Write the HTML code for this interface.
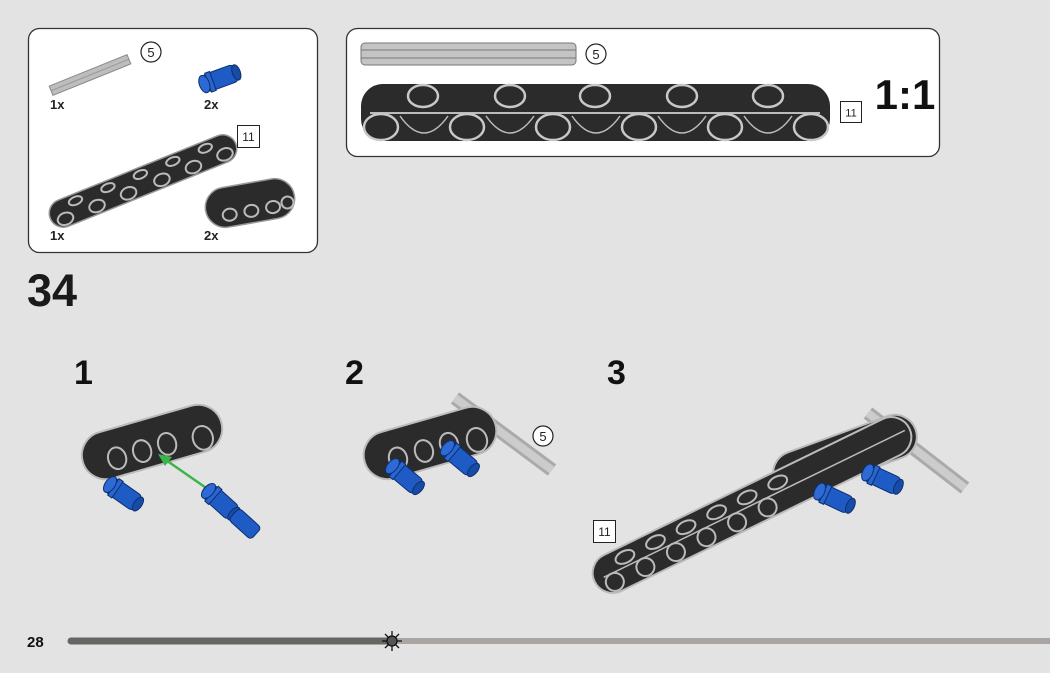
<!DOCTYPE html>
<html><head><meta charset="utf-8"><style>
html,body{margin:0;padding:0;background:#e3e3e3;}
svg{display:block;font-family:"Liberation Sans",sans-serif;}
</style></head><body>
<svg width="1050" height="673" viewBox="0 0 1050 673" xmlns="http://www.w3.org/2000/svg">
<defs>
<g id="pin">
 <rect x="-6" y="-9" width="34" height="18" rx="5" fill="#1f5bc4" stroke="#0d2f70" stroke-width="1"/>
 <rect x="-2" y="-10" width="5" height="20" fill="#2a66cf" stroke="#0d2f70" stroke-width="1"/>
 <ellipse cx="-6" cy="0" rx="5" ry="9" fill="#2d6ad6" stroke="#0d2f70" stroke-width="1"/>
 <ellipse cx="28" cy="0" rx="4" ry="8" fill="#184ba6" stroke="#0d2f70" stroke-width="1"/>
</g>
</defs>
<rect width="1050" height="673" fill="#e3e3e3"/>

<!-- Top-left parts box -->
<rect x="28.5" y="28.5" width="289" height="224" rx="11" fill="#fff" stroke="#333" stroke-width="1.3"/>
<g transform="translate(90,75) rotate(-22)">
 <rect x="-42" y="-5" width="84" height="10" fill="#bdbdbd" stroke="#888" stroke-width="1"/>
 <line x1="-42" y1="0" x2="42" y2="0" stroke="#999"/>
</g>
<circle cx="151" cy="52" r="10" fill="#fff" stroke="#222" stroke-width="1.2"/>
<text x="151" y="57" font-size="13" text-anchor="middle" fill="#222">5</text>
<text x="50" y="109" font-size="13" font-weight="bold" fill="#222">1x</text>
<g transform="translate(210,82) rotate(-20)"><use href="#pin"/></g>
<text x="204" y="109" font-size="13" font-weight="bold" fill="#222">2x</text>
<g transform="translate(143,181) rotate(-22)">
 <rect x="-100" y="-14" width="200" height="28" rx="14" fill="#2b2b2b" stroke="#999" stroke-width="1.5"/>
 <g fill="#2b2b2b" stroke="#bbb" stroke-width="2">
  <ellipse cx="-86" cy="6" rx="8" ry="6"/><ellipse cx="-52" cy="6" rx="8" ry="6"/><ellipse cx="-18" cy="6" rx="8" ry="6"/><ellipse cx="18" cy="6" rx="8" ry="6"/><ellipse cx="52" cy="6" rx="8" ry="6"/><ellipse cx="86" cy="6" rx="8" ry="6"/>
  <ellipse cx="-70" cy="-7" rx="7" ry="4"/><ellipse cx="-35" cy="-7" rx="7" ry="4"/><ellipse cx="0" cy="-7" rx="7" ry="4"/><ellipse cx="35" cy="-7" rx="7" ry="4"/><ellipse cx="70" cy="-7" rx="7" ry="4"/>
 </g>
</g>
<rect x="237.5" y="125.5" width="22" height="22" fill="#fff" stroke="#222"/>
<text x="248.5" y="141" font-size="12" text-anchor="middle" fill="#222">11</text>
<g transform="translate(250,203) rotate(-10)">
 <rect x="-45" y="-20" width="90" height="40" rx="20" fill="#2b2b2b" stroke="#999" stroke-width="1.5"/>
 <g fill="#2b2b2b" stroke="#bbb" stroke-width="2">
  <ellipse cx="-22" cy="8" rx="7" ry="6"/><ellipse cx="0" cy="8" rx="7" ry="6"/><ellipse cx="22" cy="8" rx="7" ry="6"/><ellipse cx="37" cy="6" rx="6" ry="6"/>
 </g>
</g>
<text x="50" y="240" font-size="13" font-weight="bold" fill="#222">1x</text>
<text x="204" y="240" font-size="13" font-weight="bold" fill="#222">2x</text>

<!-- Top-right 1:1 box -->
<rect x="346.5" y="28.5" width="593" height="128" rx="11" fill="#fff" stroke="#333" stroke-width="1.3"/>
<rect x="361" y="43" width="215" height="22" rx="4" fill="#c4c4c4" stroke="#777"/>
<line x1="361" y1="50" x2="576" y2="50" stroke="#777"/>
<line x1="361" y1="58" x2="576" y2="58" stroke="#777"/>
<circle cx="596" cy="54" r="10" fill="#fff" stroke="#222" stroke-width="1.2"/>
<text x="596" y="59" font-size="13" text-anchor="middle" fill="#222">5</text>
<rect x="361" y="84" width="469" height="57" rx="22" fill="#2b2b2b"/>
<line x1="370" y1="113" x2="820" y2="113" stroke="#bbb" stroke-width="2"/>
<g fill="#2b2b2b" stroke="#c8c8c8" stroke-width="2.5">
 <ellipse cx="423" cy="96" rx="15" ry="11"/><ellipse cx="510" cy="96" rx="15" ry="11"/><ellipse cx="595" cy="96" rx="15" ry="11"/><ellipse cx="682" cy="96" rx="15" ry="11"/><ellipse cx="768" cy="96" rx="15" ry="11"/>
 <ellipse cx="381" cy="127" rx="17" ry="13"/><ellipse cx="467" cy="127" rx="17" ry="13"/><ellipse cx="553" cy="127" rx="17" ry="13"/><ellipse cx="639" cy="127" rx="17" ry="13"/><ellipse cx="725" cy="127" rx="17" ry="13"/><ellipse cx="811" cy="127" rx="17" ry="13"/>
</g>
<g fill="none" stroke="#bbb" stroke-width="1.5">
 <path d="M400 116 Q424 150 448 116"/><path d="M486 116 Q510 150 534 116"/><path d="M572 116 Q596 150 620 116"/><path d="M658 116 Q682 150 706 116"/><path d="M744 116 Q768 150 792 116"/>
</g>
<rect x="840.5" y="101.5" width="21" height="21" fill="#fff" stroke="#222"/>
<text x="851" y="116.5" font-size="11" text-anchor="middle" fill="#222">11</text>
<text x="905" y="109" font-size="42" font-weight="bold" text-anchor="middle" fill="#111">1:1</text>

<!-- step number -->
<text x="27" y="306" font-size="45" font-weight="bold" fill="#1a1a1a">34</text>
<text x="74" y="384" font-size="34" font-weight="bold" fill="#111">1</text>
<text x="345" y="384" font-size="34" font-weight="bold" fill="#111">2</text>
<text x="607" y="384" font-size="34" font-weight="bold" fill="#111">3</text>

<!-- Step 1 -->
<g transform="translate(152,442) rotate(-16)">
 <rect x="-72" y="-24" width="144" height="48" rx="24" fill="#2b2b2b" stroke="#bbb" stroke-width="2"/>
 <g fill="#2b2b2b" stroke="#bbb" stroke-width="2">
  <ellipse cx="-38" cy="6" rx="9" ry="11"/><ellipse cx="-12" cy="6" rx="9" ry="11"/><ellipse cx="14" cy="6" rx="9" ry="11"/><ellipse cx="50" cy="10" rx="10" ry="12"/>
 </g>
</g>
<g transform="translate(115,488) rotate(35)"><use href="#pin"/></g>
<line x1="212" y1="492" x2="163" y2="458" stroke="#3bb54a" stroke-width="2.5"/>
<polygon points="158,454 172,457 165,466" fill="#3bb54a"/>
<g transform="translate(213,495) rotate(42)"><use href="#pin"/><rect x="28" y="-8" width="30" height="16" rx="4" fill="#1f5bc4" stroke="#0d2f70"/></g>

<!-- Step 2 -->
<line x1="455" y1="398" x2="552" y2="470" stroke="#aaa" stroke-width="14"/>
<line x1="455" y1="398" x2="552" y2="470" stroke="#ccc" stroke-width="8"/>
<g transform="translate(430,443) rotate(-16)">
 <rect x="-68" y="-24" width="136" height="48" rx="24" fill="#2b2b2b" stroke="#bbb" stroke-width="2"/>
 <g fill="#2b2b2b" stroke="#bbb" stroke-width="2">
  <ellipse cx="-35" cy="6" rx="9" ry="11"/><ellipse cx="-8" cy="6" rx="9" ry="11"/><ellipse cx="18" cy="6" rx="9" ry="11"/><ellipse cx="46" cy="10" rx="10" ry="12"/>
 </g>
</g>
<circle cx="543" cy="436" r="10" fill="#fff" stroke="#222" stroke-width="1.2"/>
<text x="543" y="441" font-size="13" text-anchor="middle" fill="#222">5</text>
<g transform="translate(397,470) rotate(40)"><use href="#pin"/></g>
<g transform="translate(452,452) rotate(40)"><use href="#pin"/></g>

<!-- Step 3 -->
<line x1="868" y1="413" x2="965" y2="488" stroke="#aaa" stroke-width="14"/>
<line x1="868" y1="413" x2="965" y2="488" stroke="#ccc" stroke-width="8"/>
<g transform="translate(845,455) rotate(-20)">
 <rect x="-75" y="-22" width="150" height="44" rx="22" fill="#2b2b2b" stroke="#bbb" stroke-width="2"/>
</g>
<g transform="translate(752,505) rotate(-26)">
 <rect x="-175" y="-20" width="350" height="40" rx="20" fill="#2b2b2b" stroke="#bbb" stroke-width="2"/>
 <line x1="-165" y1="0" x2="170" y2="0" stroke="#bbb" stroke-width="1.5"/>
 <g fill="#2b2b2b" stroke="#bbb" stroke-width="2">
  <ellipse cx="-157" cy="9" rx="9" ry="9"/><ellipse cx="-123" cy="9" rx="9" ry="9"/><ellipse cx="-89" cy="9" rx="9" ry="9"/><ellipse cx="-55" cy="9" rx="9" ry="9"/><ellipse cx="-21" cy="9" rx="9" ry="9"/><ellipse cx="13" cy="9" rx="9" ry="9"/>
  <ellipse cx="-137" cy="-9" rx="10" ry="6"/><ellipse cx="-103" cy="-9" rx="10" ry="6"/><ellipse cx="-69" cy="-9" rx="10" ry="6"/><ellipse cx="-35" cy="-9" rx="10" ry="6"/><ellipse cx="-1" cy="-9" rx="10" ry="6"/><ellipse cx="33" cy="-9" rx="10" ry="6"/>
 </g>
</g>
<g transform="translate(825,494) rotate(25)"><use href="#pin"/></g>
<g transform="translate(873,475) rotate(25)"><use href="#pin"/></g>
<rect x="593.5" y="520.5" width="22" height="22" fill="#fff" stroke="#222"/>
<text x="604.5" y="536" font-size="12" text-anchor="middle" fill="#222">11</text>

<!-- footer -->
<text x="27" y="647" font-size="15" font-weight="bold" fill="#111">28</text>
<line x1="392" y1="641" x2="1050" y2="641" stroke="#aaa5a2" stroke-width="6"/>
<line x1="71" y1="641" x2="392" y2="641" stroke="#676663" stroke-width="7" stroke-linecap="round"/>
<g transform="translate(392,641)" stroke="#111" stroke-width="1.3">
 <line x1="-10" y1="0" x2="10" y2="0"/><line x1="0" y1="-10" x2="0" y2="10"/>
 <line x1="-7" y1="-7" x2="7" y2="7"/><line x1="-7" y1="7" x2="7" y2="-7"/>
 <circle r="5" fill="#555"/>
</g>
</svg>
</body></html>
